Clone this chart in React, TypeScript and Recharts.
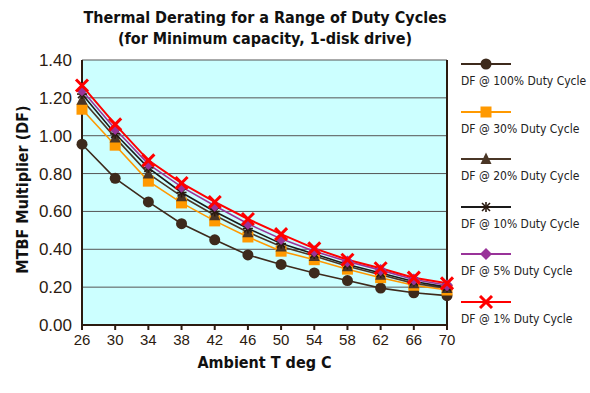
import React from 'react';
import {
  LineChart,
  Line,
  XAxis,
  YAxis,
  CartesianGrid,
  Legend,
  ReferenceLine,
} from 'recharts';

// ambient temperature (deg C)
const temps = [26, 30, 34, 38, 42, 46, 50, 54, 58, 62, 66, 70];

// DF multiplier per duty cycle
const df100 = [0.955, 0.775, 0.65, 0.535, 0.45, 0.37, 0.32, 0.275, 0.235, 0.195, 0.17, 0.155];
const df30 = [1.14, 0.95, 0.76, 0.645, 0.55, 0.465, 0.39, 0.345, 0.295, 0.25, 0.21, 0.185];
const df20 = [1.19, 0.99, 0.8, 0.68, 0.58, 0.49, 0.415, 0.365, 0.31, 0.265, 0.22, 0.195];
const df10 = [1.22, 1.01, 0.83, 0.7, 0.6, 0.51, 0.43, 0.375, 0.32, 0.275, 0.23, 0.2];
const df5 = [1.24, 1.035, 0.85, 0.73, 0.63, 0.535, 0.455, 0.39, 0.335, 0.29, 0.24, 0.21];
const df1 = [1.265, 1.06, 0.87, 0.75, 0.65, 0.56, 0.48, 0.405, 0.345, 0.3, 0.25, 0.22];

const yTicks = [0, 0.2, 0.4, 0.6, 0.8, 1.0, 1.2, 1.4];

const data = temps.map((t, i) => ({
  t,
  df100: df100[i],
  df30: df30[i],
  df20: df20[i],
  df10: df10[i],
  df5: df5[i],
  df1: df1[i],
}));

const narrow = '"Liberation Sans Narrow", "DejaVu Sans Condensed", Arial, sans-serif';
const axisColor = '#2b1b10';

// marker shapes
function marker(kind: string, cx: number, cy: number, key?: string) {
  switch (kind) {
    case 'circle':
      return <circle key={key} cx={cx} cy={cy} r={5.5} fill="#3d2a1c" />;
    case 'square':
      return <rect key={key} x={cx - 5.5} y={cy - 5.5} width={11} height={11} fill="#ff9900" />;
    case 'triangle':
      return (
        <polygon
          key={key}
          points={`${cx},${cy - 6.5} ${cx - 5.5},${cy + 5} ${cx + 5.5},${cy + 5}`}
          fill="#4a3626"
        />
      );
    case 'star':
      return (
        <g key={key} stroke="#2a1a10" strokeWidth={1.6}>
          <line x1={cx - 5} y1={cy} x2={cx + 5} y2={cy} />
          <line x1={cx} y1={cy - 5} x2={cx} y2={cy + 5} />
          <line x1={cx - 4} y1={cy - 4} x2={cx + 4} y2={cy + 4} />
          <line x1={cx - 4} y1={cy + 4} x2={cx + 4} y2={cy - 4} />
        </g>
      );
    case 'diamond':
      return (
        <polygon
          key={key}
          points={`${cx},${cy - 6} ${cx + 6},${cy} ${cx},${cy + 6} ${cx - 6},${cy}`}
          fill="#993399"
        />
      );
    default:
      return (
        <g key={key} stroke="#ff0000" strokeWidth={3}>
          <line x1={cx - 6} y1={cy - 6} x2={cx + 6} y2={cy + 6} />
          <line x1={cx - 6} y1={cy + 6} x2={cx + 6} y2={cy - 6} />
        </g>
      );
  }
}

const series = [
  { key: 'df100', name: 'DF @ 100% Duty Cycle', color: '#3d2a1c', shape: 'circle' },
  { key: 'df30', name: 'DF @ 30% Duty Cycle', color: '#ff9900', shape: 'square' },
  { key: 'df20', name: 'DF @ 20% Duty Cycle', color: '#4a3626', shape: 'triangle' },
  { key: 'df10', name: 'DF @ 10% Duty Cycle', color: '#1a1a1a', shape: 'star' },
  { key: 'df5', name: 'DF @ 5% Duty Cycle', color: '#993399', shape: 'diamond' },
  { key: 'df1', name: 'DF @ 1% Duty Cycle', color: '#ff0000', shape: 'x' },
];

function LegendBox() {
  return (
    <div style={{ width: 128 }}>
      {series.map((s) => (
        <div key={s.key} style={{ height: 47.6 }}>
          <svg width={60} height={14} style={{ display: 'block' }}>
            <line x1={0} y1={7} x2={50} y2={7} stroke={s.color} strokeWidth={2} />
            {marker(s.shape, 25, 7)}
          </svg>
          <div
            style={{
              fontFamily: narrow,
              fontSize: 12,
              color: '#222',
              lineHeight: '16px',
              marginTop: 2,
              whiteSpace: 'nowrap',
            }}
          >
            {s.name}
          </div>
        </div>
      ))}
    </div>
  );
}

export default function App() {
  return (
    <div style={{ position: 'absolute', left: 0, top: 0, width: 590, height: 393, background: '#fff' }}>
      <div
        style={{
          position: 'absolute',
          left: 82,
          width: 366,
          top: 7,
          textAlign: 'center',
          fontFamily: narrow,
          fontWeight: 'bold',
          fontSize: 16,
          lineHeight: '21px',
          color: '#111',
          whiteSpace: 'nowrap',
        }}
      >
        Thermal Derating for a Range of Duty Cycles
        <br />
        (for Minimum capacity, 1-disk drive)
      </div>
      <LineChart
        width={590}
        height={393}
        data={data}
        margin={{ top: 60, right: 143, bottom: 0, left: 0 }}
      >
        <CartesianGrid vertical={false} stroke="#555" fill="#ccffff" strokeOpacity={1} />
        <XAxis
          dataKey="t"
          type="number"
          domain={[26, 70]}
          ticks={temps}
          height={68}
          stroke={axisColor}
          strokeWidth={2}
          tickSize={5}
          tickMargin={4}
          tick={{ fill: axisColor, fontSize: 15, fontFamily: 'Arial, sans-serif' }}
          label={{
            content: ({ viewBox }: any) => (
              <text
                x={viewBox.x + viewBox.width / 2}
                y={viewBox.y + 43}
                textAnchor="middle"
                fontFamily={narrow}
                fontWeight="bold"
                fontSize={16}
                fill="#111"
              >
                Ambient T deg C
              </text>
            ),
          }}
        />
        <YAxis
          type="number"
          domain={[0, 1.4]}
          ticks={yTicks}
          width={82}
          stroke={axisColor}
          strokeWidth={2}
          tickLine={false}
          tickSize={4}
          tickMargin={6}
          tickFormatter={(v: number) => v.toFixed(2)}
          tick={{ fill: axisColor, fontSize: 17, fontFamily: 'Arial, sans-serif' }}
          label={{
            content: ({ viewBox }: any) => (
              <text
                x={0}
                y={0}
                transform={`translate(28, ${viewBox.y + viewBox.height / 2 - 3}) rotate(-90)`}
                textAnchor="middle"
                fontFamily={narrow}
                fontWeight="bold"
                fontSize={16}
                fill="#111"
              >
                MTBF Multiplier (DF)
              </text>
            ),
          }}
        />
        <ReferenceLine x={70} stroke={axisColor} strokeWidth={2} />
        {series.map((s) => (
          <Line
            key={s.key}
            dataKey={s.key}
            name={s.name}
            type="linear"
            stroke={s.color}
            strokeWidth={s.shape === 'x' ? 2 : 1.6}
            isAnimationActive={false}
            dot={(p: any) => marker(s.shape, p.cx, p.cy, `${s.key}-${p.index}`)}
            activeDot={false}
          />
        ))}
        <Legend
          layout="vertical"
          align="center"
          verticalAlign="middle"
          wrapperStyle={{ position: 'absolute', left: 461, top: 57, width: 128 }}
          content={() => <LegendBox />}
        />
      </LineChart>
    </div>
  );
}
